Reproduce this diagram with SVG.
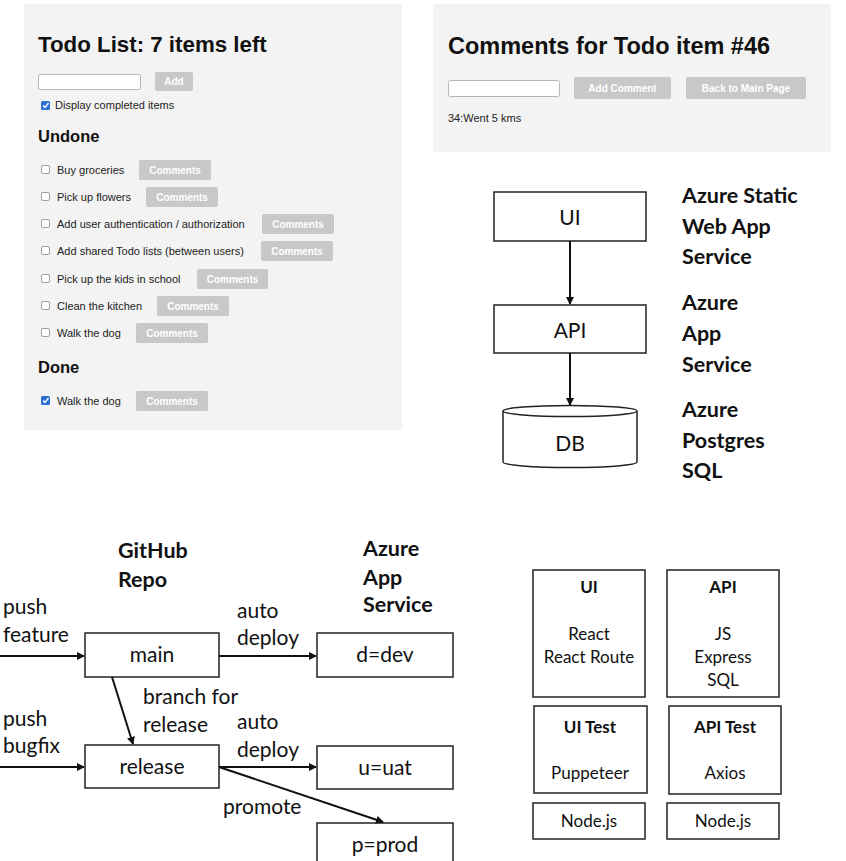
<svg xmlns="http://www.w3.org/2000/svg" width="846" height="861" viewBox="0 0 846 861">
<style>
.panel{fill:#f3f3f3}
.h{font-family:"Liberation Sans",Arial,sans-serif;font-weight:bold;fill:#111}
.t{font-family:"Liberation Sans",Arial,sans-serif;font-size:11px;fill:#222}
.inp{fill:#fff;stroke:#b5b5b5;stroke-width:1}
.btn{fill:#c8c8c8}
.bt{font-family:"Liberation Sans",Arial,sans-serif;font-size:10px;font-weight:bold;fill:#fff;text-anchor:middle}
.cb{fill:#fff;stroke:#8a8a8a;stroke-width:0.8}
.cbon{fill:#2b6fd6}
.box{fill:#fff;stroke:#222;stroke-width:1.5}
.l{font-family:Lato,"Open Sans",sans-serif;font-size:21px;fill:#111}
.lb{font-family:Lato,"Open Sans",sans-serif;font-size:21.5px;font-weight:bold;fill:#111}
.c{text-anchor:middle}
.s{font-family:Lato,"Open Sans",sans-serif;font-size:17px;fill:#111;text-anchor:middle}
.sb{font-family:Lato,"Open Sans",sans-serif;font-size:17px;font-weight:bold;fill:#111;text-anchor:middle}
.ln{stroke:#111;stroke-width:2;fill:none;marker-end:url(#ah)}
</style>
<defs>
<marker id="ah" markerWidth="8" markerHeight="8" refX="7" refY="4" orient="auto" markerUnits="userSpaceOnUse">
<path d="M0,0 L8,4 L0,8 Z" fill="#111"/>
</marker>
</defs>
<rect width="846" height="861" fill="#fff"/>

<g id="todo-panel">
<rect class="panel" x="24" y="4" width="378" height="426"/>
<text class="h" x="38" y="52" font-size="22.3">Todo List: 7 items left</text>
<rect class="inp" x="38.5" y="74.5" width="102" height="15" rx="2"/>
<rect class="btn" x="155" y="72" width="38" height="19" rx="2"/>
<text class="bt" x="174" y="85">Add</text>
<rect class="cbon" x="41" y="101" width="9" height="9" rx="1.5"/>
<path d="M43,105.5 L45,107.5 L48.5,103" stroke="#fff" stroke-width="1.4" fill="none"/>
<text class="t" x="55" y="109">Display completed items</text>
<text class="h" x="38" y="142" font-size="16.5">Undone</text>
<g id="row1"><rect class="cb" x="41.5" y="165.5" width="8" height="8" rx="1.5"/><text class="t" x="57" y="174">Buy groceries</text><rect class="btn" x="139" y="160" width="72" height="20" rx="2"/><text class="bt" x="175" y="174">Comments</text></g>
<g id="row2"><rect class="cb" x="41.5" y="192.5" width="8" height="8" rx="1.5"/><text class="t" x="57" y="201">Pick up flowers</text><rect class="btn" x="146" y="187" width="72" height="20" rx="2"/><text class="bt" x="182" y="201">Comments</text></g>
<g id="row3"><rect class="cb" x="41.5" y="219.5" width="8" height="8" rx="1.5"/><text class="t" x="57" y="228">Add user authentication / authorization</text><rect class="btn" x="262" y="214" width="72" height="20" rx="2"/><text class="bt" x="298" y="228">Comments</text></g>
<g id="row4"><rect class="cb" x="41.5" y="246.5" width="8" height="8" rx="1.5"/><text class="t" x="57" y="255">Add shared Todo lists (between users)</text><rect class="btn" x="261" y="241" width="72" height="20" rx="2"/><text class="bt" x="297" y="255">Comments</text></g>
<g id="row5"><rect class="cb" x="41.5" y="274.5" width="8" height="8" rx="1.5"/><text class="t" x="57" y="283">Pick up the kids in school</text><rect class="btn" x="197" y="269" width="71" height="20" rx="2"/><text class="bt" x="232.5" y="283">Comments</text></g>
<g id="row6"><rect class="cb" x="41.5" y="301.5" width="8" height="8" rx="1.5"/><text class="t" x="57" y="310">Clean the kitchen</text><rect class="btn" x="157" y="296" width="72" height="20" rx="2"/><text class="bt" x="193" y="310">Comments</text></g>
<g id="row7"><rect class="cb" x="41.5" y="328.5" width="8" height="8" rx="1.5"/><text class="t" x="57" y="337">Walk the dog</text><rect class="btn" x="136" y="323" width="72" height="20" rx="2"/><text class="bt" x="172" y="337">Comments</text></g>
<text class="h" x="38" y="373" font-size="16.5">Done</text>
<g id="row8"><rect class="cbon" x="41" y="396" width="9" height="9" rx="1.5"/><path d="M43,400.5 L45,402.5 L48.5,398" stroke="#fff" stroke-width="1.4" fill="none"/><text class="t" x="57" y="405">Walk the dog</text><rect class="btn" x="136" y="391" width="72" height="20" rx="2"/><text class="bt" x="172" y="405">Comments</text></g>
</g>

<g id="comments-panel">
<rect class="panel" x="433" y="4" width="398" height="148"/>
<text class="h" x="448" y="54" font-size="23.5">Comments for Todo item #46</text>
<rect class="inp" x="448.5" y="80.5" width="111" height="16" rx="2"/>
<rect class="btn" x="574" y="77" width="97" height="22" rx="2"/>
<text class="bt" x="622.5" y="92">Add Comment</text>
<rect class="btn" x="686" y="77" width="120" height="22" rx="2"/>
<text class="bt" x="746" y="92">Back to Main Page</text>
<text class="t" x="448" y="122">34:Went 5 kms</text>
</g>

<g id="arch-ui"><rect class="box" x="494" y="192" width="152" height="49"/><text class="l c" x="570" y="225">UI</text></g>
<g id="arch-api"><rect class="box" x="494" y="305" width="152" height="48"/><text class="l c" x="570" y="338">API</text></g>
<g id="arch-db">
<path class="box" d="M503,411 L503,462 A67,5.5 0 0 0 637,462 L637,411"/>
<ellipse class="box" cx="570" cy="411" rx="67" ry="5.5"/>
<text class="l c" x="570" y="451">DB</text>
</g>
<g id="arch-labels">
<text class="lb" x="682" y="203">Azure Static</text>
<text class="lb" x="682" y="234">Web App</text>
<text class="lb" x="682" y="264">Service</text>
<text class="lb" x="682" y="310">Azure</text>
<text class="lb" x="682" y="341">App</text>
<text class="lb" x="682" y="372">Service</text>
<text class="lb" x="682" y="417">Azure</text>
<text class="lb" x="682" y="448">Postgres</text>
<text class="lb" x="682" y="478">SQL</text>
</g>

<g id="pipe-headers">
<text class="lb" x="118" y="558">GitHub</text>
<text class="lb" x="118" y="587">Repo</text>
<text class="lb" x="363" y="556">Azure</text>
<text class="lb" x="363" y="585">App</text>
<text class="lb" x="363" y="612">Service</text>
</g>
<g id="main"><rect class="box" x="85" y="633" width="134" height="44"/><text class="l c" x="152" y="662">main</text></g>
<g id="release"><rect class="box" x="85" y="745" width="134" height="43"/><text class="l c" x="152" y="774">release</text></g>
<g id="dev"><rect class="box" x="317" y="633" width="136" height="44"/><text class="l c" x="385" y="662">d=dev</text></g>
<g id="uat"><rect class="box" x="317" y="746" width="136" height="43"/><text class="l c" x="385" y="775">u=uat</text></g>
<g id="prod"><rect class="box" x="317" y="823" width="136" height="45"/><text class="l c" x="385" y="852">p=prod</text></g>

<g id="pipe-labels">
<text class="l" x="3" y="614">push</text>
<text class="l" x="3" y="642">feature</text>
<text class="l" x="3" y="726">push</text>
<text class="l" x="3" y="753">bugfix</text>
<text class="l" x="237" y="618">auto</text>
<text class="l" x="237" y="645">deploy</text>
<text class="l" x="143" y="704">branch for</text>
<text class="l" x="143" y="732">release</text>
<text class="l" x="237" y="729">auto</text>
<text class="l" x="237" y="757">deploy</text>
<text class="l" x="223" y="814">promote</text>
</g>

<g id="connectors">
<line class="ln" x1="570" y1="241" x2="570" y2="304"/>
<line class="ln" x1="570" y1="353" x2="570" y2="405"/>
<line class="ln" x1="0" y1="656" x2="84" y2="656"/>
<line class="ln" x1="219" y1="656" x2="316" y2="656"/>
<line class="ln" x1="112" y1="677" x2="133" y2="744"/>
<line class="ln" x1="0" y1="767" x2="84" y2="767"/>
<line class="ln" x1="219" y1="767" x2="316" y2="767"/>
<line class="ln" x1="219" y1="767" x2="383" y2="822"/>
</g>

<g id="stack-ui"><rect class="box" x="533" y="570" width="112" height="127"/><text class="sb" x="589" y="593">UI</text><text class="s" x="589" y="640">React</text><text class="s" x="589" y="663">React Route</text></g>
<g id="stack-api"><rect class="box" x="667" y="570" width="112" height="127"/><text class="sb" x="723" y="593">API</text><text class="s" x="723" y="640">JS</text><text class="s" x="723" y="663">Express</text><text class="s" x="723" y="686">SQL</text></g>
<g id="stack-uitest"><rect class="box" x="534" y="706" width="113" height="87"/><text class="sb" x="590" y="733">UI Test</text><text class="s" x="590" y="779">Puppeteer</text></g>
<g id="stack-apitest"><rect class="box" x="669" y="706" width="112" height="88"/><text class="sb" x="725" y="733">API Test</text><text class="s" x="725" y="779">Axios</text></g>
<g id="stack-node1"><rect class="box" x="533" y="803" width="112" height="36"/><text class="s" x="589" y="827">Node.js</text></g>
<g id="stack-node2"><rect class="box" x="667" y="803" width="112" height="36"/><text class="s" x="723" y="827">Node.js</text></g>
</svg>
